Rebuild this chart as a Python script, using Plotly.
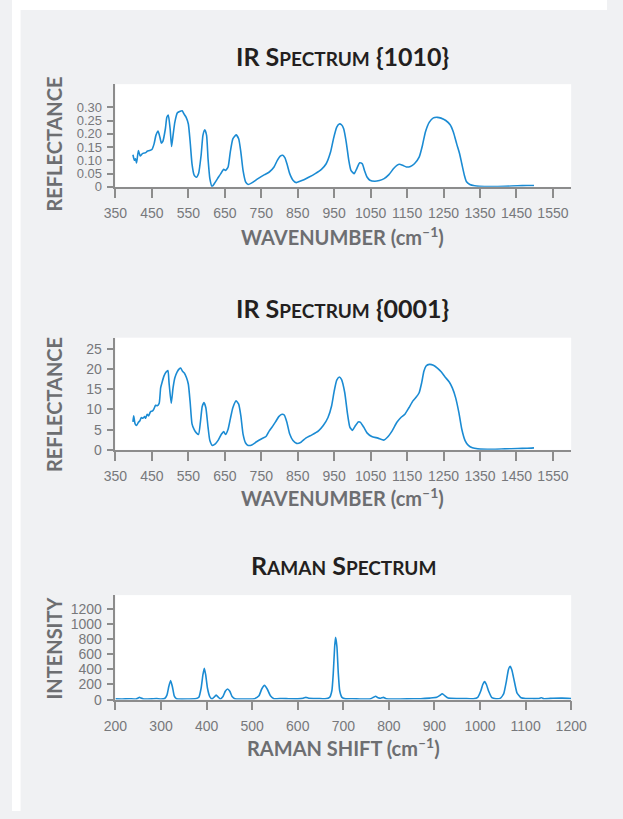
import plotly.graph_objects as go

W, H = 623, 819

# ---------------- data ----------------
ir1_x = [398,402,405,408,413,418,424,433,437,444,450,456,461,467,472,476,480,487,491,495,
         500,504,508,513,520,526,533,538,544,550,555,560,566,572,578,585,590,595,600,604,
         609,615,621,630,639,647,652,659,665,672,681,688,694,700,707,714,724,741,759,772,
         785,794,802,809,815,821,828,837,846,856,867,880,898,915,928,940,948,957,964,970,
         976,983,990,996,1005,1012,1020,1027,1033,1040,1048,1061,1074,1087,1100,1113,1122,1129,1138,1148,
         1159,1170,1183,1192,1200,1211,1222,1233,1243,1256,1268,1277,1286,1294,1300,1307,1313,1322,1335,1348,
         1383,1418,1453,1479,1498]
ir1_y = [0.121,0.100,0.106,0.090,0.137,0.116,0.125,0.129,0.134,0.137,0.141,0.162,0.194,0.210,0.187,0.165,0.171,0.219,0.262,0.271,
         0.219,0.152,0.194,0.244,0.279,0.284,0.287,0.275,0.262,0.237,0.169,0.087,0.044,0.036,0.050,0.119,0.194,0.215,0.194,0.106,
         0.031,0.001,0.012,0.031,0.050,0.066,0.062,0.075,0.131,0.181,0.196,0.181,0.131,0.062,0.019,0.009,0.015,0.031,0.046,0.056,
         0.075,0.100,0.116,0.119,0.109,0.084,0.050,0.025,0.016,0.021,0.027,0.036,0.050,0.066,0.087,0.131,0.181,0.225,0.237,0.234,
         0.219,0.169,0.100,0.062,0.050,0.069,0.091,0.087,0.062,0.037,0.025,0.021,0.024,0.031,0.046,0.069,0.081,0.085,0.081,0.075,
         0.077,0.087,0.112,0.156,0.206,0.244,0.260,0.262,0.259,0.250,0.234,0.206,0.162,0.125,0.087,0.044,0.019,0.009,0.004,0.002,
         0.001,0.002,0.004,0.005,0.005]

ir2_x = [398,400,404,408,413,417,421,425,430,433,437,441,446,452,456,460,465,470,474,478,
         483,489,494,497,503,508,513,519,525,529,534,539,545,550,555,560,566,572,578,583,
         588,593,598,604,609,616,624,632,641,647,652,659,665,672,681,688,694,700,707,714,
         724,737,750,763,772,781,789,798,807,813,820,828,837,847,859,872,889,907,920,933,
         943,950,957,964,970,979,986,993,1000,1007,1016,1022,1031,1040,1053,1070,1086,1096,1109,1122,
         1133,1144,1155,1166,1174,1183,1190,1196,1202,1211,1222,1233,1244,1254,1266,1274,1283,1292,1300,1309,
         1318,1329,1344,1383,1418,1453,1479,1498]
ir2_y = [6.9,8.4,6.4,6.0,6.8,7.2,8.0,7.8,8.2,7.8,8.8,8.4,9.4,9.6,10.2,11.0,10.9,11.5,15.3,16.7,
         18.2,19.2,19.6,16.6,11.5,15.3,17.8,19.2,20.0,20.2,19.4,19.0,17.8,16.2,11.7,6.4,5.0,4.2,3.8,6.8,
         10.7,11.7,10.4,5.6,2.3,1.1,1.5,2.4,3.9,4.5,3.8,5.1,7.6,10.4,12.1,11.3,8.4,3.9,1.7,1.1,
         1.2,2.0,2.7,3.3,4.7,5.8,6.9,8.2,8.8,8.6,6.9,3.9,2.3,1.6,1.9,2.9,3.7,4.7,6.0,8.0,
         10.9,14.5,17.2,18.0,17.4,14.1,9.2,5.6,4.8,5.8,6.9,6.8,5.6,4.2,3.3,2.9,2.4,3.1,4.7,6.8,
         8.0,8.8,10.4,12.1,12.9,14.1,16.6,19.4,20.7,21.1,20.9,20.2,19.2,18.0,16.7,15.3,12.9,9.2,5.1,2.3,
         1.1,0.5,0.25,0.15,0.25,0.33,0.4,0.5]

raman_x = [200,215,230,245,250,253,256,262,280,290,300,308,313,317,321,325,329,334,360,375,
           383,388,392,395,398,402,407,412,416,421,426,430,436,441,446,451,456,462,490,505,
           515,521,527,533,540,548,565,580,600,612,618,624,645,660,670,675,678,681,683,686,
           689,692,697,705,720,740,760,766,771,776,782,788,794,810,840,870,890,905,912,917,
           922,930,950,965,985,995,1002,1006,1010,1014,1019,1026,1035,1045,1052,1058,1062,1066,1070,1075,
           1081,1090,1100,1130,1135,1140,1160,1180,1200]
raman_y = [10,8,12,8,22,30,20,8,10,14,8,15,60,170,253,170,50,10,8,10,
           30,150,330,415,330,150,40,10,30,61,30,8,40,110,140,110,40,10,8,12,
           50,140,188,140,50,12,15,12,10,18,30,18,15,12,30,120,350,700,825,700,
           350,120,30,10,12,8,12,30,44,25,18,30,12,8,10,12,20,30,55,78,
           55,20,15,15,12,30,120,200,240,200,110,25,12,20,80,250,390,441,390,250,
           90,25,15,15,25,12,18,20,15]

ir_ticks = list(range(350, 1551, 100))
ir1_yticks = [0, 0.05, 0.10, 0.15, 0.20, 0.25, 0.30]
ir1_yticktext = ["0", "0.05", "0.10", "0.15", "0.20", "0.25", "0.30"]
ir2_yticks = [0, 5, 10, 15, 20, 25]
raman_xticks = list(range(200, 1201, 100))
raman_yticks = [0, 200, 400, 600, 800, 1000, 1200]

# ---------------- helpers ----------------
def px(x):
    return x / W

def py(y):
    return 1 - y / H

LINE = "#1b8bd3"
AX = "#8c8c8c"
GRAY_BG = "#f0f1f3"
TICKF = dict(family="Liberation Sans, Arial, sans-serif", size=14, color="#77787b")
TICKF_S = dict(family="Liberation Sans, Arial, sans-serif", size=13, color="#77787b")
TITLEF = dict(family="Lato, sans-serif", size=20, color="#6d6e71")
HEADF = dict(family="Lato, sans-serif", size=25, color="#231f20")

L, R = 108.3, 585.5
panels = [(85, 188.7), (341, 454.3), (601, 706.5)]

fig = go.Figure()
fig.add_trace(go.Scatter(x=ir1_x, y=ir1_y, mode="lines", line=dict(color=LINE, width=1.6, shape="spline", smoothing=0.5),
                         xaxis="x", yaxis="y", showlegend=False))
fig.add_trace(go.Scatter(x=ir2_x, y=ir2_y, mode="lines", line=dict(color=LINE, width=1.6, shape="spline", smoothing=0.5),
                         xaxis="x2", yaxis="y2", showlegend=False))
fig.add_trace(go.Scatter(x=raman_x, y=raman_y, mode="lines", line=dict(color=LINE, width=1.6, shape="spline", smoothing=0.4),
                         xaxis="x3", yaxis="y3", showlegend=False))

def xax(domain_y_anchor, rng, ticks):
    return dict(domain=[px(L), px(R)], range=rng, tickvals=ticks, showline=True, linecolor=AX, linewidth=1.5,
                ticks="outside", ticklen=9, tickwidth=1.5, tickcolor=AX, showgrid=False, zeroline=False,
                tickfont=TICKF, ticklabelstandoff=4, anchor=domain_y_anchor, fixedrange=True)

def yax(top, bot, rng, ticks, text=None, anchor="x", font=TICKF):
    d = dict(domain=[py(bot), py(top)], range=rng, tickvals=ticks, showline=True, linecolor=AX, linewidth=1.5,
             ticks="outside", ticklen=7, tickwidth=1.5, tickcolor=AX, showgrid=False, zeroline=False,
             tickfont=font, ticklabelstandoff=2, anchor=anchor, fixedrange=True)
    if text is not None:
        d["ticktext"] = text
    return d

fig.update_layout(
    width=W, height=H, autosize=False,
    margin=dict(l=0, r=0, t=0, b=0),
    paper_bgcolor=GRAY_BG, plot_bgcolor="white",
    xaxis=xax("y", [350, 1600], ir_ticks),
    yaxis=yax(panels[0][0], panels[0][1], [0, 0.387], ir1_yticks, ir1_yticktext, "x", TICKF_S),
    xaxis2=xax("y2", [350, 1600], ir_ticks),
    yaxis2=yax(panels[1][0], panels[1][1], [0, 27.7], ir2_yticks, None, "x2"),
    xaxis3=xax("y3", [200, 1200], raman_xticks),
    yaxis3=yax(panels[2][0], panels[2][1], [0, 1383], raman_yticks, None, "x3"),
)

# white margins outside gray panel
fig.add_shape(type="rect", xref="paper", yref="paper", x0=0, x1=px(9), y0=0, y1=1,
              fillcolor="white", line_width=0, layer="above")
fig.add_shape(type="rect", xref="paper", yref="paper", x0=0, x1=1, y0=py(10), y1=1,
              fillcolor="white", line_width=0, layer="above")

def ann(text, x, y, font, angle=0):
    fig.add_annotation(text=text, x=px(x), y=py(y), xref="paper", yref="paper", showarrow=False,
                       xanchor="center", yanchor="middle", font=font, textangle=angle)

sc = "font-size:19px"
ann(f"<b>IR S<span style='{sc}'>PECTRUM</span> {{1010}}</b>", 346, 57, HEADF)
ann(f"<b>IR S<span style='{sc}'>PECTRUM</span> {{0001}}</b>", 346, 311, HEADF)
ann(f"<b>R<span style='{sc}'>AMAN</span> S<span style='{sc}'>PECTRUM</span></b>", 347, 571, HEADF)

ann("<b>WAVENUMBER (cm<sup>–1</sup>)</b>", 346, 238, TITLEF)
ann("<b>WAVENUMBER (cm<sup>–1</sup>)</b>", 346, 502, TITLEF)
ann("<b>RAMAN SHIFT (cm<sup>–1</sup>)</b>", 347, 754, TITLEF)

ann("<b>REFLECTANCE</b>", 44, 146, TITLEF, -90)
ann("<b>REFLECTANCE</b>", 44, 409, TITLEF, -90)
ann("<b>INTENSITY</b>", 44, 655, TITLEF, -90)

post = """
document.documentElement.style.margin='0';
document.documentElement.style.overflow='hidden';
document.documentElement.style.background='%s';
document.body.style.margin='0';
document.body.style.padding='0';
document.body.style.overflow='hidden';
document.body.style.background='%s';
var gd = document.getElementById('{plot_id}');
gd.style.position='fixed';
gd.style.left='0px';
gd.style.top='0px';
""" % (GRAY_BG, GRAY_BG)

fig.write_html("out.html", config={"displayModeBar": False}, post_script=post)
